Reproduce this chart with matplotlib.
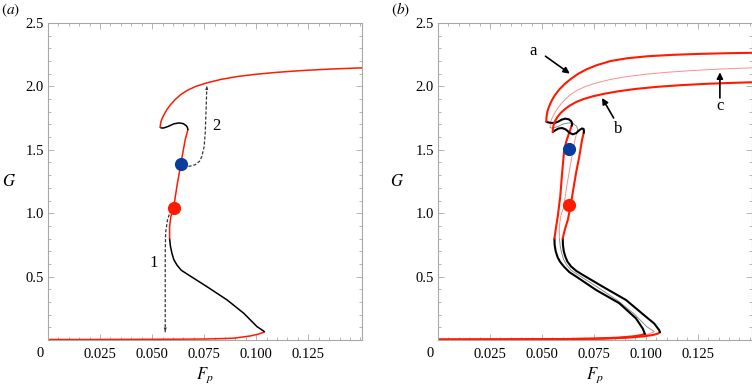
import matplotlib.pyplot as plt
from matplotlib.ticker import MultipleLocator

plt.rcParams['font.family'] = ['Liberation Serif', 'DejaVu Serif']
plt.rcParams['mathtext.fontset'] = 'stix'

# ---------------------------------------------- base curve (panel a, also curve c in panel b)
base_low_F = [0, 0.02, 0.04, 0.06, 0.0763, 0.0891, 0.0972, 0.1012, 0.1036, 0.1039]
base_low_G = [0.004, 0.004, 0.005, 0.006, 0.008, 0.014, 0.032, 0.047, 0.061, 0.066]
base_unst_F = [0.1039, 0.1028, 0.1004, 0.094, 0.086, 0.0763, 0.0675, 0.0640, 0.0619, 0.0604, 0.0595, 0.0588, 0.0584]
base_unst_G = [0.066, 0.079, 0.105, 0.211, 0.316, 0.421, 0.513, 0.55, 0.592, 0.635, 0.685, 0.74, 0.80]
base_mid_F = [0.0584, 0.0584, 0.059, 0.0603, 0.0619, 0.0638, 0.0659, 0.0672]
base_mid_G = [0.80, 0.895, 0.974, 1.04, 1.211, 1.39, 1.58, 1.659]
base_wig_F = [0.0672, 0.0669, 0.0664, 0.0650, 0.0630, 0.0605, 0.0575, 0.0555, 0.0544, 0.0539]
base_wig_G = [1.659, 1.678, 1.69, 1.706, 1.712, 1.705, 1.683, 1.672, 1.672, 1.678]
base_up_F = [0.0539, 0.0540, 0.0543, 0.0549, 0.0558, 0.0571, 0.0588, 0.0610, 0.0637, 0.0670, 0.0710,
             0.0763, 0.0830, 0.0910, 0.1000, 0.1100, 0.1220, 0.1360, 0.152]
base_up_G = [1.678, 1.70, 1.725, 1.75, 1.78, 1.817, 1.855, 1.895, 1.935, 1.97, 2.0,
             2.028, 2.055, 2.078, 2.096, 2.111, 2.125, 2.137, 2.147]

# ---------------------------------------------- curve a (panel b)
a_low_F = [0, 0.03, 0.06, 0.075, 0.087, 0.094, 0.0975, 0.0995]
a_low_G = [0.004, 0.005, 0.007, 0.011, 0.019, 0.029, 0.038, 0.048]
a_unst_F = [0.0995, 0.0985, 0.0952, 0.0872, 0.076, 0.0665, 0.0632, 0.0605, 0.0588, 0.0576, 0.0566, 0.0561, 0.0560]
a_unst_G = [0.048, 0.09, 0.171, 0.29, 0.395, 0.50, 0.535, 0.58, 0.615, 0.65, 0.70, 0.75, 0.80]
a_mid_F = [0.0560, 0.0567, 0.0576, 0.0588, 0.0597, 0.0606, 0.0616, 0.0630, 0.0643]
a_mid_G = [0.80, 0.88, 0.974, 1.132, 1.317, 1.48, 1.56, 1.63, 1.69]
a_wig_F = [0.0643, 0.0646, 0.0641, 0.0630, 0.0613, 0.0595, 0.0578, 0.0562, 0.0545, 0.0530, 0.0521]
a_wig_G = [1.69, 1.705, 1.725, 1.740, 1.746, 1.738, 1.722, 1.712, 1.712, 1.716, 1.722]
a_up_F = [0.0521, 0.0522, 0.0526, 0.0534, 0.0546, 0.0562, 0.0583, 0.0610, 0.0640, 0.0675, 0.0715,
          0.0765, 0.0830, 0.0910, 0.1010, 0.1130, 0.1270, 0.1400, 0.152]
a_up_G = [1.722, 1.76, 1.80, 1.84, 1.885, 1.93, 1.975, 2.02, 2.06, 2.10, 2.135,
          2.168, 2.20, 2.222, 2.238, 2.249, 2.257, 2.262, 2.265]

# ---------------------------------------------- curve b (panel b)
b_low_F = [0, 0.03, 0.06, 0.08, 0.092, 0.099, 0.1035, 0.1060, 0.1068]
b_low_G = [0.004, 0.005, 0.007, 0.011, 0.019, 0.029, 0.040, 0.052, 0.062]
b_unst_F = [0.1068, 0.1063, 0.1040, 0.1000, 0.0904, 0.0792, 0.0700, 0.0665, 0.0640, 0.0622, 0.0612, 0.0605, 0.0601, 0.0600]
b_unst_G = [0.062, 0.08, 0.13, 0.184, 0.316, 0.421, 0.51, 0.545, 0.58, 0.62, 0.66, 0.70, 0.75, 0.80]
b_mid_F = [0.0600, 0.0610, 0.0625, 0.0640, 0.0652, 0.0664, 0.0680, 0.0693, 0.0701]
b_mid_G = [0.80, 0.87, 0.95, 1.08, 1.20, 1.317, 1.45, 1.58, 1.633]
b_wig_F = [0.0701, 0.0702, 0.0700, 0.0692, 0.0680, 0.0665, 0.0648, 0.0632, 0.0615, 0.0597, 0.0580, 0.0565, 0.0552]
b_wig_G = [1.633, 1.650, 1.665, 1.668, 1.655, 1.632, 1.622, 1.635, 1.660, 1.672, 1.668, 1.655, 1.640]
b_up_F = [0.0552, 0.0553, 0.0557, 0.0564, 0.0575, 0.0590, 0.0610, 0.0635, 0.0665, 0.0700,
          0.0745, 0.0800, 0.0870, 0.0950, 0.1050, 0.1170, 0.1300, 0.1420, 0.152]
b_up_G = [1.640, 1.67, 1.70, 1.73, 1.76, 1.79, 1.82, 1.85, 1.877, 1.90,
          1.922, 1.942, 1.962, 1.98, 1.996, 2.010, 2.021, 2.028, 2.033]

# ---------------------------------------------- points and jump paths
dots_a = {'red': (0.0603, 1.04), 'blue': (0.0638, 1.39)}
dots_b = {'red': (0.0632, 1.066), 'blue': (0.0629, 1.506)}
jump1_F = [0.0590, 0.0574, 0.0565, 0.0563, 0.0563, 0.0563]
jump1_G = [1.027, 0.948, 0.85, 0.70, 0.30, 0.06]
jump2_F = [0.0651, 0.0680, 0.0707, 0.0728, 0.0739, 0.0750, 0.0755, 0.0760, 0.0763]
jump2_G = [1.377, 1.370, 1.382, 1.410, 1.448, 1.527, 1.633, 1.85, 2.01]

x_ticks = [0.025, 0.05, 0.075, 0.1, 0.125]
x_labels = ['0.025', '0.050', '0.075', '0.100', '0.125']
y_ticks = [0.5, 1.0, 1.5, 2.0, 2.5]
y_labels = ['0.5', '1.0', '1.5', '2.0', '2.5']

RED = '#ff1a00'
PINK = '#ff8c8c'
GREY = '#8c8c8c'
BLUE = '#0a3c9c'
FRAME = '#a8a8a8'


def draw_curve(ax, segs, lw, stable_col, unstable_col):
    for i, (F, G) in enumerate(segs):
        col = stable_col if i % 2 == 0 else unstable_col
        ax.plot(F, G, color=col, lw=lw, solid_capstyle='round', solid_joinstyle='round')


def style_axes(ax, label, g_x, lab_x):
    ax.set_xlim(0, 0.1508)
    ax.set_ylim(0, 2.5)
    ax.set_xticks(x_ticks)
    ax.set_xticklabels(x_labels)
    ax.set_yticks(y_ticks)
    ax.set_yticklabels(y_labels)
    ax.xaxis.set_minor_locator(MultipleLocator(0.005))
    ax.yaxis.set_minor_locator(MultipleLocator(0.1))
    ax.tick_params(which='both', direction='in', top=True, right=True,
                   color=FRAME, labelsize=10.5, width=0.6)
    ax.tick_params(which='major', length=4)
    ax.tick_params(which='minor', length=2)
    ax.tick_params(axis='x', pad=6)
    ax.tick_params(axis='y', pad=3)
    for sp in ax.spines.values():
        sp.set_color(FRAME)
        sp.set_linewidth(0.8)
    ax.text(g_x, 0.5, '$G$', transform=ax.transAxes, fontsize=12,
            ha='center', va='center')
    ax.text(0.5, -0.11, '$F_p$', transform=ax.transAxes, fontsize=12,
            ha='center', va='center')
    ax.text(-0.0245, -0.042, '0', transform=ax.transAxes, fontsize=10.5,
            ha='center', va='center')
    ax.text(lab_x, 1.041, label, transform=ax.transAxes, fontsize=11,
            ha='left', va='center')


fig = plt.figure(figsize=(7.52, 3.89), dpi=100)
ax1 = fig.add_axes([48 / 752, 49 / 389, 314 / 752, 317 / 389])
ax2 = fig.add_axes([438 / 752, 49 / 389, 313.5 / 752, 317 / 389])

# ---------------------------------------------- panel (a)
base_segs = [(base_low_F, base_low_G), (base_unst_F, base_unst_G), (base_mid_F, base_mid_G),
             (base_wig_F, base_wig_G), (base_up_F, base_up_G)]
draw_curve(ax1, base_segs, 1.1, RED, 'black')
ax1.plot(jump1_F, jump1_G, color='#333333', lw=0.9, ls=(0, (2.5, 1.5)))
ax1.annotate('', xy=(jump1_F[-1], jump1_G[-1] - 0.01), xytext=(jump1_F[-2], jump1_G[-2]),
             arrowprops=dict(arrowstyle='-|>', color='#333333', lw=0, mutation_scale=6))
ax1.plot(jump2_F, jump2_G, color='#333333', lw=0.9, ls=(0, (2.5, 1.5)))
ax1.annotate('', xy=(jump2_F[-1], jump2_G[-1] + 0.01), xytext=(jump2_F[-2], jump2_G[-2]),
             arrowprops=dict(arrowstyle='-|>', color='#333333', lw=0, mutation_scale=6))
ax1.plot(*dots_a['red'], 'o', color=RED, ms=9.5, mec='none', zorder=5)
ax1.plot(*dots_a['blue'], 'o', color=BLUE, ms=9.5, mec='none', zorder=5)
ax1.text(0.0507, 0.606, '1', fontsize=12, ha='center', va='center')
ax1.text(0.0808, 1.69, '2', fontsize=12, ha='center', va='center')
style_axes(ax1, '$(a)$', -0.123, -0.150)

# ---------------------------------------------- panel (b)
a_segs = [(a_low_F, a_low_G), (a_unst_F, a_unst_G), (a_mid_F, a_mid_G),
          (a_wig_F, a_wig_G), (a_up_F, a_up_G)]
b_segs = [(b_low_F, b_low_G), (b_unst_F, b_unst_G), (b_mid_F, b_mid_G),
          (b_wig_F, b_wig_G), (b_up_F, b_up_G)]
draw_curve(ax2, base_segs, 0.7, PINK, GREY)
draw_curve(ax2, a_segs, 1.5, RED, 'black')
draw_curve(ax2, b_segs, 1.5, RED, 'black')
ax2.plot(*dots_b['red'], 'o', color=RED, ms=9.5, mec='none', zorder=5)
ax2.plot(*dots_b['blue'], 'o', color=BLUE, ms=9.5, mec='none', zorder=5)

arrow_kw = dict(arrowstyle='-|>', color='black', lw=1.2, mutation_scale=9, shrinkA=0, shrinkB=0)
ax2.annotate('', xy=(0.0634, 2.101), xytext=(0.0517, 2.238), arrowprops=arrow_kw)
ax2.annotate('', xy=(0.0789, 1.909), xytext=(0.0845, 1.751), arrowprops=arrow_kw)
ax2.annotate('', xy=(0.1356, 2.111), xytext=(0.1356, 1.909), arrowprops=arrow_kw)
ax2.text(0.0457, 2.277, 'a', fontsize=12, ha='center', va='center')
ax2.text(0.0866, 1.664, 'b', fontsize=12, ha='center', va='center')
ax2.text(0.1359, 1.843, 'c', fontsize=12, ha='center', va='center')
style_axes(ax2, '$(b)$', -0.131, -0.150)

fig.savefig('out.png', dpi=100)
